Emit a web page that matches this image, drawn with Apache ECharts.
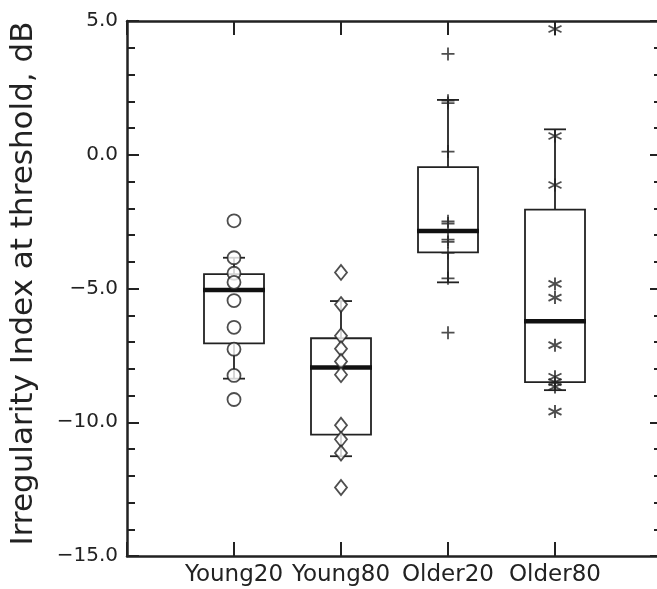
<!DOCTYPE html>
<html>
<head>
<meta charset="utf-8">
<script src="https://cdn.jsdelivr.net/npm/echarts@6/dist/echarts.min.js"></script>
<style>
  html, body { margin: 0; padding: 0; background: #fff; }
  #chart { width: 657px; height: 589px; }
</style>
</head>
<body>
<div id="chart"></div>
<script>
// groups along the x axis (placed at 1..4 on a 0..5 scale)
var categories = ['Young20', 'Young80', 'Older20', 'Older80'];

// box statistics per group
var whiskerLow = [-8.37, -11.27, -4.77, -8.8];
var q1 = [-7.05, -10.46, -3.65, -8.5];
var medians = [-5.06, -7.95, -2.85, -6.22];
var q3 = [-4.46, -6.86, -0.46, -2.05];
var whiskerHigh = [-3.85, -5.47, 2.05, 0.95];

// individual subjects
var young20 = [-2.47, -3.85, -4.43, -4.77, -5.45, -6.45, -7.27, -8.25, -9.15];
var young80 = [-4.4, -5.6, -6.77, -7.25, -7.73, -8.22, -10.11, -10.64, -11.15, -12.44];
var older20 = [3.77, 2.02, 1.93, 0.12, -2.49, -2.57, -3.17, -3.26, -3.67, -4.62, -6.65];
var older80 = [4.7, 0.7, -1.13, -4.83, -5.34, -7.12, -8.3, -8.5, -8.68, -9.6];

var ink = '#222';

var chart = echarts.init(document.getElementById('chart'), null, { renderer: 'canvas' });

function pts(idx, arr) {
  return arr.map(function (v) { return [idx + 1, v]; });
}

var boxData = categories.map(function (c, i) {
  return [i + 1, whiskerLow[i], q1[i], medians[i], q3[i], whiskerHigh[i]];
});

function renderBox(params, api) {
  var x = api.value(0);
  var lo = api.coord([x, api.value(1)]);
  var b1 = api.coord([x, api.value(2)]);
  var md = api.coord([x, api.value(3)]);
  var b3 = api.coord([x, api.value(4)]);
  var hi = api.coord([x, api.value(5)]);
  var cx = lo[0];
  var half = 30, cap = 11;
  var thin = { stroke: ink, lineWidth: 1.8 };
  return {
    type: 'group',
    children: [
      { type: 'line', shape: { x1: cx, y1: hi[1], x2: cx, y2: b3[1] }, style: thin },
      { type: 'line', shape: { x1: cx, y1: b1[1], x2: cx, y2: lo[1] }, style: thin },
      { type: 'line', shape: { x1: cx - cap, y1: hi[1], x2: cx + cap, y2: hi[1] }, style: thin },
      { type: 'line', shape: { x1: cx - cap, y1: lo[1], x2: cx + cap, y2: lo[1] }, style: thin },
      { type: 'rect', shape: { x: cx - half, y: b3[1], width: half * 2, height: b1[1] - b3[1] },
        style: { fill: 'none', stroke: ink, lineWidth: 1.8 } },
      { type: 'line', shape: { x1: cx - half - 1, y1: md[1], x2: cx + half + 1, y2: md[1] },
        style: { stroke: '#111', lineWidth: 4.5 } }
    ]
  };
}

var xAxisBase = {
  type: 'value',
  min: 0,
  max: 5,
  interval: 1,
  axisLine: { show: true, onZero: false, lineStyle: { color: ink, width: 2.5 } },
  axisTick: { show: true, inside: true, length: 14, lineStyle: { color: ink, width: 2 } },
  splitLine: { show: false }
};

var yAxisBase = {
  type: 'value',
  min: -15,
  max: 5,
  interval: 5,
  axisLine: { show: true, onZero: false, lineStyle: { color: ink, width: 2.5 } },
  axisTick: { show: true, inside: true, length: 12, lineStyle: { color: ink, width: 2 } },
  minorTick: { show: true, splitNumber: 5, length: 8, lineStyle: { color: ink, width: 2 } },
  splitLine: { show: false }
};

var option = {
  animation: false,
  backgroundColor: '#fff',
  grid: { left: 127, top: 21, width: 535, bottom: 33, outerBoundsMode: 'none' },
  xAxis: [
    Object.assign({}, xAxisBase, {
      position: 'bottom',
      axisLabel: {
        formatter: function (v) { return categories[v - 1] || ''; },
        fontSize: 23, fontFamily: 'DejaVu Sans', color: ink, margin: 8
      }
    }),
    Object.assign({}, xAxisBase, { position: 'top', axisLabel: { show: false } })
  ],
  yAxis: [
    Object.assign({}, yAxisBase, {
      position: 'left',
      axisLabel: {
        formatter: function (v) { return v.toFixed(1).replace('-', '\u2212'); },
        fontSize: 20, fontFamily: 'DejaVu Sans', color: ink, margin: 9
      },
      name: 'Irregularity Index at threshold, dB',
      nameLocation: 'middle',
      nameGap: 88,
      nameTextStyle: { fontSize: 31, fontFamily: 'DejaVu Sans', color: ink, padding: [0, 0, 0, 10] }
    }),
    Object.assign({}, yAxisBase, { position: 'right', axisLabel: { show: false } })
  ],
  series: [
    {
      type: 'custom',
      renderItem: renderBox,
      encode: { x: 0, y: [1, 2, 3, 4, 5] },
      data: boxData,
      z: 2,
      silent: true
    },
    {
      name: 'Young20', type: 'scatter', data: pts(0, young20), z: 3, silent: true,
      symbol: 'circle', symbolSize: 13,
      itemStyle: { color: '#fff', borderColor: ink, borderWidth: 1.8 }
    },
    {
      name: 'Young80', type: 'scatter', data: pts(1, young80), z: 3, silent: true,
      symbol: 'diamond', symbolSize: [12, 15],
      itemStyle: { color: '#fff', borderColor: ink, borderWidth: 1.8 }
    },
    {
      name: 'Older20', type: 'scatter', data: pts(2, older20), z: 3, silent: true,
      symbol: 'path://M0,6L12,6M6,0L6,12', symbolSize: 13,
      itemStyle: { color: ink, borderColor: ink, borderWidth: 1.8 }
    },
    {
      name: 'Older80', type: 'scatter', data: pts(3, older80), z: 3, silent: true,
      symbol: 'path://M6,0L6,12M0.8,3L11.2,9M0.8,9L11.2,3', symbolSize: 13,
      itemStyle: { color: ink, borderColor: ink, borderWidth: 1.9 }
    }
  ]
};

chart.setOption(option);
</script>
</body>
</html>
